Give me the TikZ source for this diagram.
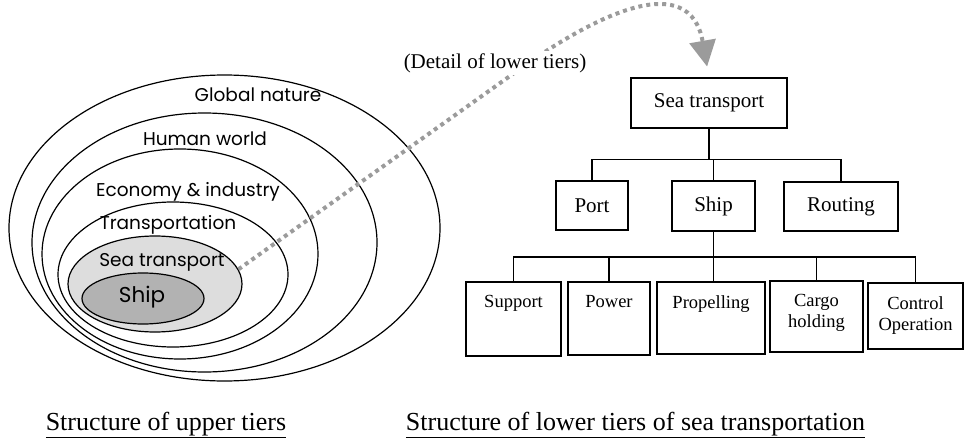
\documentclass[tikz,border=0pt]{standalone}
\usepackage{fontspec}
\setmainfont{Liberation Serif}
\newfontfamily\gothic{Poppins}
\usepackage{tikz}
\usetikzlibrary{shapes.geometric, arrows.meta}
\definecolor{seagray}{RGB}{221,221,221}
\definecolor{shipgray}{RGB}{178,178,178}
\definecolor{dotgray}{RGB}{155,155,155}

\begin{document}
\begin{tikzpicture}[x=1pt, y=-1pt,
        ring/.style={draw, ellipse, line width=1.2pt, inner sep=0},
        tier/.style={font=\gothic\fontsize{18.5}{22}\selectfont, inner sep=0},
        box/.style={draw, line width=1.2pt, inner sep=0, font=\fontsize{21}{25}\selectfont},
        part/.style={draw, line width=1.2pt, inner sep=0},
        parttext/.style={anchor=north, align=center, inner sep=0, yshift=-14pt,
                         font=\fontsize{18.5}{21}\selectfont},
        caption/.style={anchor=base, inner sep=0, font=\fontsize{26}{30}\selectfont}]
    \useasboundingbox (0,0) rectangle (965,441);

    \node[ring, minimum width=431pt, minimum height=306pt] (nature) at (224.5,228) {};
    \node[ring, minimum width=345pt, minimum height=259pt] (human) at (204.5,242.5) {};
    \node[ring, minimum width=276pt, minimum height=210pt] (economy) at (180,254) {};
    \node[ring, minimum width=230pt, minimum height=145pt] (transport) at (173,274.5) {};
    \node[ring, fill=seagray, minimum width=174pt, minimum height=96pt] (sea) at (155,284) {};
    \node[ring, fill=shipgray, minimum width=122pt, minimum height=51pt] (vessel) at (143,298.5) {};

    \node[tier] (naturetext) at (258,95) {Global nature};
    \node[tier] (humantext) at (205,139) {Human world};
    \node[tier] (economytext) at (188,192) {Economy \& industry};
    \node[tier] (transporttext) at (168,225) {Transportation};
    \node[tier] (seatext) at (162,262) {Sea transport};
    \node[tier, font=\gothic\fontsize{21.5}{25}\selectfont] (vesseltext) at (142,297) {Ship};

    \node[box, minimum width=156pt, minimum height=50pt] (seabox) at (709,103) {Sea transport};
    \node[box, minimum width=72pt, minimum height=49pt] (port) at (592,205.5) {Port};
    \node[box, minimum width=83pt, minimum height=50pt] (ship) at (713.5,206) {Ship};
    \node[box, minimum width=114pt, minimum height=49pt] (routing) at (841,206.5) {Routing};

    \node[part, minimum width=95pt, minimum height=74pt,
          label={[parttext]north:Support}] (support) at (513.5,319) {};
    \node[part, minimum width=82pt, minimum height=73pt,
          label={[parttext]north:Power}] (power) at (609,318.5) {};
    \node[part, minimum width=108pt, minimum height=72pt,
          label={[parttext]north:Propelling}] (propel) at (711,318) {};
    \node[part, minimum width=93pt, minimum height=71pt,
          label={[parttext]north:Cargo\\holding}] (cargo) at (816.5,316.5) {};
    \node[part, minimum width=95pt, minimum height=66pt,
          label={[parttext]north:Control\\Operation}] (control) at (915.5,316) {};

    \draw[line width=1.2pt] (seabox.south) -- ++(0,31) coordinate (upper);
    \draw[line width=1.2pt] (port.north) |- (upper) -| (routing.north);
    \draw[line width=1.2pt] (ship.north) -- (ship.north |- upper);
    \coordinate (lower) at (ship.south |- 0,257);
    \draw[line width=1.2pt] (ship.south) -- (ship.south |- propel.north);
    \draw[line width=1.2pt] (support.north) |- (lower) -| (control.north);
    \draw[line width=1.2pt] (power.north) -- (power.north |- lower);
    \draw[line width=1.2pt] (cargo.north) -- (cargo.north |- lower);

    \draw[dotgray, line width=4pt, dash pattern=on 4pt off 4pt,
          -{Triangle[length=26pt, width=26pt]}, shorten >=11pt]
        (sea.10) -- (510,76) .. controls (599,11) and (690,-30) .. (seabox.north);
    \node[fill=white, inner sep=2pt, font=\fontsize{21}{25}\selectfont] (detail) at (495,63) {(Detail of lower tiers)};

    \node[caption] (uppercap) at (166,430) {\underline{Structure of upper tiers}};
    \node[caption] (lowercap) at (635.5,430) {\underline{Structure of lower tiers of sea transportation}};
\end{tikzpicture}
\end{document}
